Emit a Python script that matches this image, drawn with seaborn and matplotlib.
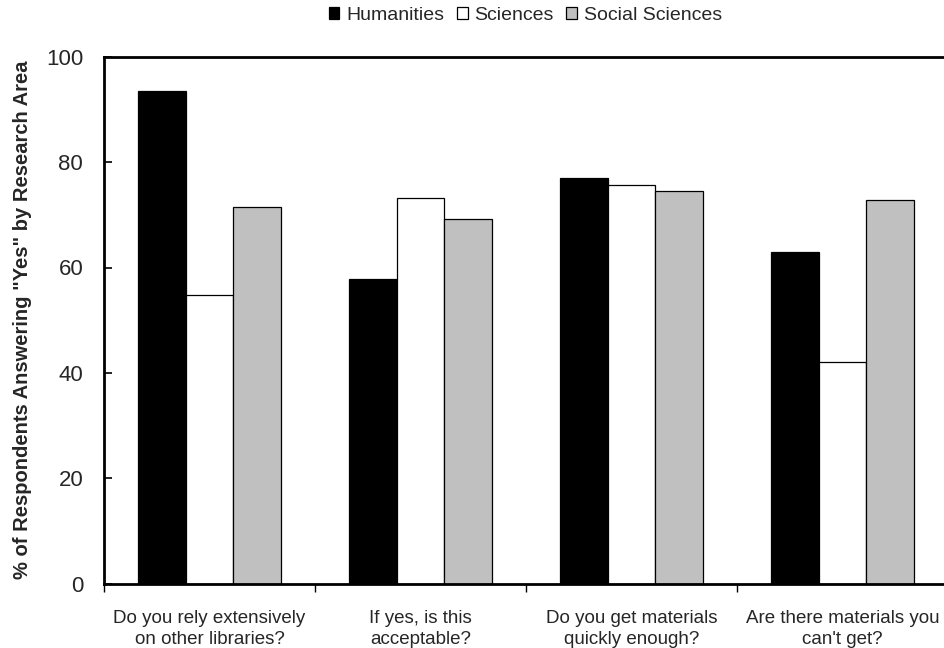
import matplotlib
matplotlib.use("Agg")
import matplotlib.pyplot as plt
import seaborn as sns
import pandas as pd
from matplotlib.ticker import FixedLocator

# Survey questions (x categories)
questions = [
    "Do you rely extensively\non other libraries?",
    "If yes, is this\nacceptable?",
    "Do you get materials\nquickly enough?",
    "Are there materials you\ncan't get?",
]

# % answering "Yes" per research area
humanities = [93.5, 57.8, 76.9, 62.9]
sciences = [54.8, 73.1, 75.7, 42.0]
social_sciences = [71.4, 69.2, 74.5, 72.8]

areas = ["Humanities", "Sciences", "Social Sciences"]
area_colors = ["#000000", "#FFFFFF", "#C0C0C0"]
y_ticks = [0, 20, 40, 60, 80, 100]

rows = []
for area, vals in zip(areas, [humanities, sciences, social_sciences]):
    for q, v in zip(questions, vals):
        rows.append({"Question": q, "Area": area, "Yes": v})
df = pd.DataFrame(rows)

sns.set_theme(style="white")
plt.rcParams["font.family"] = ["Liberation Sans", "DejaVu Sans"]

fig = plt.figure(figsize=(9.45, 6.48), dpi=100)
ax = fig.add_axes([104 / 945, 64.3 / 648, 844 / 945, 527 / 648])

sns.barplot(
    data=df, x="Question", y="Yes", hue="Area",
    order=questions, hue_order=areas,
    palette=area_colors, edgecolor="black", linewidth=0.9,
    width=0.68, gap=0, errorbar=None, ax=ax,
)

ax.set_xlim(-0.5, len(questions) - 0.5)
ax.set_ylim(0, 100)
ax.set_yticks(y_ticks)
ax.set_yticklabels([str(t) for t in y_ticks], fontsize=16)
ax.tick_params(axis="y", direction="in", length=6, width=1.2,
               color="black", pad=15, left=True)

# category labels centred, tick marks on the boundaries between groups
ax.set_xticks(range(len(questions)))
ax.set_xticklabels(questions, fontsize=13.5, linespacing=1.3)
ax.tick_params(axis="x", which="major", length=0, pad=19)
ax.xaxis.set_minor_locator(FixedLocator([i + 0.5 for i in range(-1, len(questions))]))
ax.tick_params(axis="x", which="minor", direction="out", length=6,
               width=1.0, color="black", bottom=True)

ax.set_xlabel("")
ax.set_ylabel('% of Respondents Answering "Yes" by Research Area',
              fontsize=14.5, fontweight="bold", labelpad=10)

for side in ["left", "top", "bottom", "right"]:
    ax.spines[side].set_visible(True)
    ax.spines[side].set_color("black")
    ax.spines[side].set_linewidth(2.0)
ax.grid(False)

handles, labels = ax.get_legend_handles_labels()
ax.get_legend().remove()
fig.legend(handles, labels, loc="center", bbox_to_anchor=(0.556, 0.976),
           ncol=3, frameon=False, fontsize=14, handlelength=0.55,
           handleheight=0.55, handletextpad=0.35, columnspacing=0.65,
           borderaxespad=0)

fig.savefig("out.png", dpi=100)
